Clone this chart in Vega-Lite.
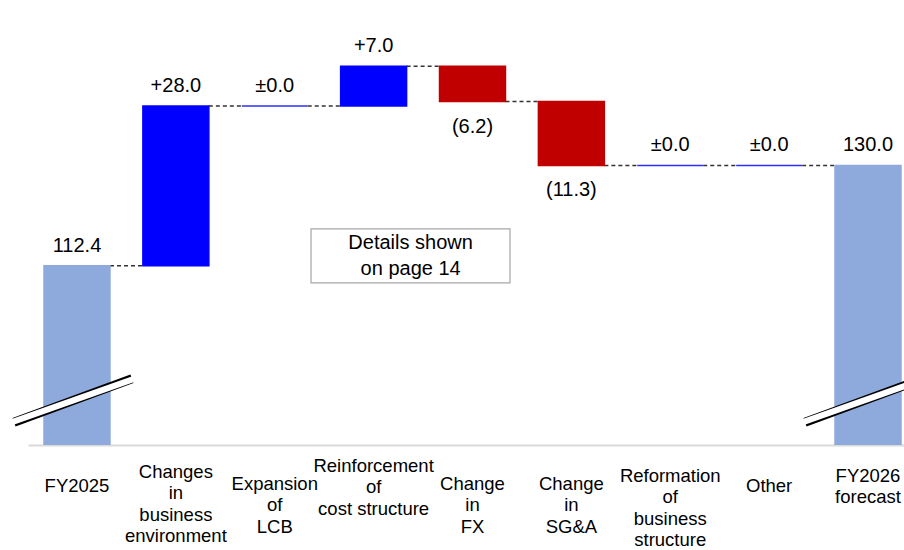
{
  "$schema": "https://vega.github.io/schema/vega-lite/v6.json",
  "width": 876,
  "height": 445,
  "autosize": "none",
  "padding": {"left": 28, "top": 0, "right": 0, "bottom": 105},
  "background": "white",
  "config": {"view": {"stroke": null}, "font": "Liberation Sans"},
  "datasets": {
    "steps": [
      {"cat": "FY2025", "next": "Changes|in|business|environment", "start": 0, "end": 112.4, "type": "total", "text": "112.4"},
      {"cat": "Changes|in|business|environment", "next": "Expansion|of|LCB", "start": 112.4, "end": 140.4, "type": "increase", "text": "+28.0"},
      {"cat": "Expansion|of|LCB", "next": "Reinforcement|of|cost structure", "start": 140.4, "end": 140.4, "type": "zero", "text": "±0.0"},
      {"cat": "Reinforcement|of|cost structure", "next": "Change|in|FX", "start": 140.4, "end": 147.4, "type": "increase", "text": "+7.0"},
      {"cat": "Change|in|FX", "next": "Change|in|SG&A", "start": 147.4, "end": 141.2, "type": "decrease", "text": "(6.2)"},
      {"cat": "Change|in|SG&A", "next": "Reformation|of|business|structure", "start": 141.2, "end": 130.0, "type": "decrease", "text": "(11.3)"},
      {"cat": "Reformation|of|business|structure", "next": "Other", "start": 130.0, "end": 130.0, "type": "zero", "text": "±0.0"},
      {"cat": "Other", "next": "FY2026|forecast", "start": 130.0, "end": 130.0, "type": "zero", "text": "±0.0"},
      {"cat": "FY2026|forecast", "next": null, "start": 0, "end": 130.0, "type": "total", "text": "130.0"}
    ],
    "breaks": [
      {"cat": "FY2025", "y1": 85.0, "y2": 92.6},
      {"cat": "FY2026|forecast", "y1": 85.0, "y2": 92.6}
    ],
    "note": [
      {"cat": "Reinforcement|of|cost structure", "cat2": "Change|in|FX", "top": 118.9, "bottom": 109.4, "text": ["Details shown", "on page 14"]}
    ]
  },
  "encoding": {
    "x": {
      "field": "cat",
      "type": "nominal",
      "scale": {
        "domain": ["FY2025", "Changes|in|business|environment", "Expansion|of|LCB", "Reinforcement|of|cost structure", "Change|in|FX", "Change|in|SG&A", "Reformation|of|business|structure", "Other", "FY2026|forecast"],
        "range": [0, 889],
        "paddingInner": 0.333,
        "paddingOuter": 0.162
      },
      "axis": {
        "title": null,
        "labelExpr": "split(datum.value, '|')",
        "labelAngle": 0,
        "labelFont": "Liberation Sans",
        "labelFontSize": 18.5,
        "labelLineHeight": 21.5,
        "labelColor": "#000000",
        "labelBaseline": "top",
        "labelPadding": {
          "condition": [
            {"test": "indexof(['FY2025','Other'], datum.value) >= 0", "value": 31},
            {"test": "indexof(['Expansion|of|LCB','Change|in|FX','Change|in|SG&A'], datum.value) >= 0", "value": 29},
            {"test": "datum.value === 'Changes|in|business|environment'", "value": 17},
            {"test": "datum.value === 'Reinforcement|of|cost structure'", "value": 11}
          ],
          "value": 21
        },
        "labelLimit": 0,
        "labelOverlap": false,
        "ticks": false,
        "tickSize": 0,
        "grid": false,
        "domainColor": "#d9d9d9",
        "domainWidth": 2
      }
    }
  },
  "layer": [
    {
      "data": {"name": "steps"},
      "transform": [{"filter": "datum.next != null"}],
      "mark": {"type": "rule", "color": "#333333", "strokeWidth": 1.5, "strokeDash": [4, 3], "xOffset": 33, "x2Offset": -33},
      "encoding": {
        "x2": {"field": "next"},
        "y": {"field": "end", "type": "quantitative", "scale": {"domain": [81, 159]}, "axis": null}
      }
    },
    {
      "data": {"name": "steps"},
      "mark": {"type": "bar", "clip": true, "strokeWidth": 1.5},
      "encoding": {
        "y": {"field": "start", "type": "quantitative", "scale": {"domain": [81, 159]}, "axis": null},
        "y2": {"field": "end"},
        "color": {"field": "type", "type": "nominal", "scale": {"domain": ["total", "increase", "decrease", "zero"], "range": ["#8EA9DB", "#0000FF", "#C00000", "#2F2FFF"]}, "legend": null},
        "stroke": {"field": "type", "type": "nominal", "scale": {"domain": ["total", "increase", "decrease", "zero"], "range": ["#8EA9DB", "#0000FF", "#C00000", "#2F2FFF"]}, "legend": null}
      }
    },
    {
      "data": {"name": "steps"},
      "transform": [{"filter": "datum.type != 'decrease'"}],
      "mark": {"type": "text", "font": "Liberation Sans", "fontSize": 20, "color": "#000000", "baseline": "alphabetic", "dy": -14},
      "encoding": {
        "y": {"field": "end", "type": "quantitative", "scale": {"domain": [81, 159]}, "axis": null},
        "text": {"field": "text"}
      }
    },
    {
      "data": {"name": "steps"},
      "transform": [{"filter": "datum.type == 'decrease'"}],
      "mark": {"type": "text", "font": "Liberation Sans", "fontSize": 20, "color": "#000000", "baseline": "top", "dy": 15},
      "encoding": {
        "y": {"field": "end", "type": "quantitative", "scale": {"domain": [81, 159]}, "axis": null},
        "text": {"field": "text"}
      }
    },
    {
      "data": {"name": "breaks"},
      "mark": {"type": "rule", "color": "#000000", "strokeWidth": 9, "strokeCap": "butt", "xOffset": -63, "x2Offset": 55},
      "encoding": {
        "x2": {"field": "cat"},
        "y": {"field": "y1", "type": "quantitative", "scale": {"domain": [81, 159]}, "axis": null},
        "y2": {"field": "y2"}
      }
    },
    {
      "data": {"name": "breaks"},
      "mark": {"type": "rule", "color": "#ffffff", "strokeWidth": 6, "strokeCap": "butt", "xOffset": -65, "x2Offset": 57},
      "encoding": {
        "x2": {"field": "cat"},
        "y": {"field": "y1", "type": "quantitative", "scale": {"domain": [81, 159]}, "axis": null},
        "y2": {"field": "y2"}
      }
    },
    {
      "data": {"name": "note"},
      "mark": {"type": "rect", "fill": "#ffffff", "stroke": "#a6a6a6", "strokeWidth": 1.2, "xOffset": -62.6, "x2Offset": 37.5},
      "encoding": {
        "x2": {"field": "cat2"},
        "y": {"field": "top", "type": "quantitative", "scale": {"domain": [81, 159]}, "axis": null},
        "y2": {"field": "bottom"}
      }
    },
    {
      "data": {"name": "note"},
      "mark": {"type": "text", "font": "Liberation Sans", "fontSize": 20, "color": "#000000", "baseline": "alphabetic", "align": "center", "dy": 20, "lineHeight": 26, "xOffset": 37},
      "encoding": {
        "y": {"field": "top", "type": "quantitative", "scale": {"domain": [81, 159]}, "axis": null},
        "text": {"field": "text"}
      }
    }
  ]
}
